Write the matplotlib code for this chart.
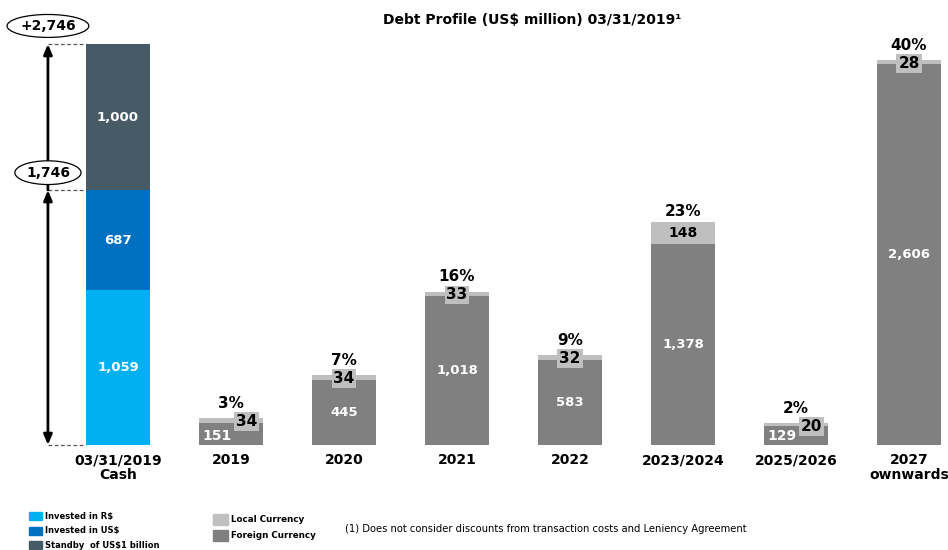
import matplotlib
matplotlib.use("Agg")
import matplotlib.pyplot as plt
from matplotlib.patches import Rectangle

# Cash bar (left)
cash_parts = ["Invested in R$", "Invested in US$", "Standby  of US$1 billion"]
cash_values = [1059, 687, 1000]
cash_label = "03/31/2019\nCash"

# Debt maturities
periods = ["2019", "2020", "2021", "2022", "2023/2024", "2025/2026", "2027\nownwards"]
foreign = [151, 445, 1018, 583, 1378, 129, 2606]
local = [34, 34, 33, 32, 148, 20, 28]
share = ["3%", "7%", "16%", "9%", "23%", "2%", "40%"]

title = "Debt Profile (US$ million) 03/31/2019\u00b9"
footnote = "(1) Does not consider discounts from transaction costs and Leniency Agreement"

# Colours
COL_CASH = ["#00B0F0", "#0070C0", "#475B67"]
COL_LOCAL = "#BFBFBF"
COL_FOREIGN = "#808080"

W, H = 948, 550
BASE_PX, TOP_PX = 445, 44
X0_PX, STEP_PX = 118, 113
BAR_W = 0.56

fig = plt.figure(figsize=(W / 100, H / 100), dpi=100)
ax = fig.add_axes([0, 0, 1, 1])
ax.axis("off")

total_cash = sum(cash_values)
k = (BASE_PX - TOP_PX) / total_cash          # pixels per unit
ax.set_xlim(-X0_PX / STEP_PX, (W - X0_PX) / STEP_PX)
ax.set_ylim(-(H - BASE_PX) / k, BASE_PX / k)


def fmt(v):
    return f"{v:,}"


# --- cash stack
bottom = 0
for v, c in zip(cash_values, COL_CASH):
    ax.bar(0, v, bottom=bottom, width=BAR_W, color=c, edgecolor="none")
    ax.text(0, bottom + v / 2, fmt(v), color="white", fontsize=9.5,
            fontweight="bold", ha="center", va="center")
    bottom += v

# arrows and markers on the left
ax_x = -0.62
mid_level = cash_values[0] + cash_values[1]
ax.hlines([0, mid_level, total_cash], ax_x, -BAR_W / 2, colors="#555555",
          linestyles=(0, (3, 2)), linewidth=0.9)
ax.annotate("", xy=(ax_x, mid_level), xytext=(ax_x, 0),
            arrowprops=dict(arrowstyle="<|-|>,head_width=0.25,head_length=0.6",
                            color="black", lw=2, shrinkA=0, shrinkB=0))
ax.annotate("", xy=(ax_x, total_cash), xytext=(ax_x, mid_level),
            arrowprops=dict(arrowstyle="-|>,head_width=0.25,head_length=0.6",
                            color="black", lw=2, shrinkA=0, shrinkB=0))
ax.annotate(fmt(mid_level), xy=(ax_x, mid_level), xytext=(0, 12.5),
            textcoords="offset points", ha="center", va="center",
            fontsize=10, fontweight="bold", zorder=6,
            bbox=dict(boxstyle="ellipse,pad=0.1", fc="white", ec="black", lw=0.9))
ax.annotate("+" + fmt(total_cash), xy=(ax_x, total_cash), xytext=(0, 13),
            textcoords="offset points", ha="center", va="center",
            fontsize=10, fontweight="bold", zorder=6,
            bbox=dict(boxstyle="ellipse,pad=0.08", fc="white", ec="black", lw=0.9))

# --- debt bars
xs = list(range(1, len(periods) + 1))
ax.bar(xs, foreign, width=BAR_W, color=COL_FOREIGN, edgecolor="none")
ax.bar(xs, local, bottom=foreign, width=BAR_W, color=COL_LOCAL, edgecolor="none")

box = dict(boxstyle="square,pad=0.12", fc=COL_LOCAL, ec="none")
for x, f, l, s in zip(xs, foreign, local, share):
    top = f + l
    small = f < 200
    if small:
        # short bars: values side by side
        ax.annotate(fmt(f), xy=(x, 0), xytext=(-10, 6.5), textcoords="offset points",
                    color="white", fontsize=10, fontweight="bold",
                    ha="center", va="center")
        ax.annotate(fmt(l), xy=(x, top), xytext=(11, -2.5), textcoords="offset points",
                    color="black", fontsize=11, fontweight="bold",
                    ha="center", va="center", bbox=box)
    else:
        ax.text(x, f / 2, fmt(f), color="white", fontsize=9.5,
                fontweight="bold", ha="center", va="center")
        if l * k > 12:
            ax.text(x, f + l / 2, fmt(l), color="black", fontsize=10,
                    fontweight="bold", ha="center", va="center")
        else:
            ax.annotate(fmt(l), xy=(x, top), xytext=(0, -2.5),
                        textcoords="offset points", color="black", fontsize=11,
                        fontweight="bold", ha="center", va="center", bbox=box)
    off = 8 if l * k > 12 else 10.5
    ax.annotate(s, xy=(x, top), xytext=(0, off), textcoords="offset points",
                color="black", fontsize=11, fontweight="bold",
                ha="center", va="center")

# --- category labels
for x, lab in zip([0] + xs, [cash_label] + periods):
    ax.annotate(lab, xy=(x, 0), xytext=(0, -6), textcoords="offset points",
                ha="center", va="top", fontsize=10, fontweight="bold",
                linespacing=1.1)

# --- title
fig.text(532 / W, 1 - 20 / H, title, ha="center", va="center",
         fontsize=10, fontweight="bold")

# --- legends (drawn by hand, like the slide)
def legend_item(x, y, w, h, color, label, size):
    fig.patches.append(Rectangle((x / W, 1 - (y + h / 2) / H), w / W, h / H,
                                 transform=fig.transFigure, color=color))
    fig.text((x + w + 3) / W, 1 - y / H, label, ha="left", va="center",
             fontsize=size, fontweight="bold")


for i, (lab, c) in enumerate(zip(cash_parts, COL_CASH)):
    legend_item(29, 516 + 14.5 * i, 13, 8, c, lab, 6.0)
legend_item(213, 519, 15, 11, COL_LOCAL, "Local Currency", 6.3)
legend_item(213, 535, 15, 11, COL_FOREIGN, "Foreign Currency", 6.3)

fig.text(345 / W, 1 - 529 / H, footnote, ha="left", va="center", fontsize=7.2)

fig.savefig("out.png", dpi=100)
